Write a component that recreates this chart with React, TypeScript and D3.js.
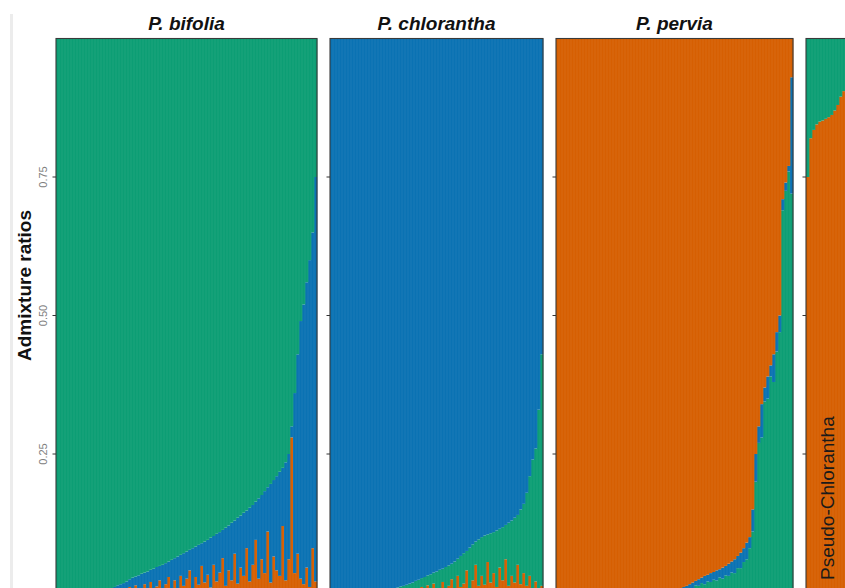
import React from "react";
import * as d3 from "d3";

// ---------- data ----------
const panelTitles = ["P. bifolia", "P. chlorantha", "P. pervia", ""];
const sideLabel = "Pseudo-Chlorantha";
const yTicks = [0.25, 0.5, 0.75];
const yTitle = "Admixture ratios";

// P. bifolia: total non-green share per individual, and its orange part
const bifoliaNonGreen = [
  0, 0, 0, 0, 0, 0, 0.001, 0, 0.001, 0.002,
  0.001, 0.002, 0.002, 0.003, 0.003, 0.004, 0.005, 0.006, 0.008, 0.01,
  0.013, 0.015, 0.017, 0.02, 0.024, 0.027, 0.029, 0.031, 0.034, 0.036,
  0.038, 0.041, 0.043, 0.046, 0.048, 0.05, 0.053, 0.056, 0.059, 0.062,
  0.065, 0.068, 0.071, 0.074, 0.077, 0.08, 0.083, 0.086, 0.089, 0.092,
  0.095, 0.099, 0.102, 0.106, 0.109, 0.113, 0.117, 0.121, 0.126, 0.13,
  0.135, 0.139, 0.144, 0.148, 0.153, 0.158, 0.164, 0.17, 0.176, 0.183,
  0.19, 0.196, 0.203, 0.21, 0.218, 0.225, 0.235, 0.25, 0.3, 0.36,
  0.43, 0.49, 0.52, 0.56, 0.6, 0.65, 0.75,
];
const bifoliaOrange = [
  0, 0, 0, 0, 0, 0, 0, 0, 0, 0,
  0, 0, 0.001, 0.001, 0.001, 0.002, 0.001, 0.003, 0.004, 0.001,
  0.005, 0.002, 0.008, 0.003, 0.01, 0.002, 0.013, 0.005, 0.002, 0.015,
  0.006, 0.019, 0.004, 0.011, 0.022, 0.005, 0.015, 0.028, 0.007, 0.022,
  0.004, 0.03, 0.012, 0.025, 0.04, 0.008, 0.028, 0.014, 0.048, 0.018,
  0.032, 0.009, 0.05, 0.02, 0.036, 0.062, 0.012, 0.04, 0.022, 0.07,
  0.016, 0.045, 0.03, 0.08, 0.02, 0.05, 0.095, 0.025, 0.06, 0.035,
  0.11, 0.018, 0.065, 0.04, 0.03, 0.12, 0.022, 0.06, 0.28, 0.035,
  0.07, 0.025, 0.015, 0.045, 0.01, 0.08, 0.02,
];

// P. chlorantha: total non-blue share, and its orange part
const chloranthaNonBlue = [
  0, 0, 0, 0, 0, 0, 0, 0, 0, 0,
  0, 0.001, 0.001, 0.002, 0.002, 0.003, 0.003, 0.004, 0.005, 0.006,
  0.007, 0.008, 0.009, 0.011, 0.012, 0.014, 0.016, 0.018, 0.021, 0.023,
  0.026, 0.028, 0.031, 0.033, 0.036, 0.038, 0.041, 0.043, 0.046, 0.049,
  0.052, 0.056, 0.061, 0.066, 0.071, 0.075, 0.081, 0.087, 0.092, 0.096,
  0.1, 0.103, 0.105, 0.107, 0.109, 0.112, 0.115, 0.118, 0.122, 0.126,
  0.13, 0.135, 0.14, 0.15, 0.16, 0.18, 0.21, 0.24, 0.26, 0.33, 0.43,
];
const chloranthaOrange = [
  0, 0, 0, 0, 0, 0, 0, 0, 0, 0,
  0, 0, 0, 0, 0, 0, 0, 0, 0, 0,
  0, 0, 0, 0, 0, 0.002, 0.006, 0.001, 0.008, 0.003,
  0.01, 0.002, 0.013, 0.004, 0.016, 0.003, 0.008, 0.019, 0.005, 0.012,
  0.024, 0.006, 0.03, 0.01, 0.016, 0.04, 0.008, 0.022, 0.05, 0.012,
  0.03, 0.014, 0.055, 0.018, 0.035, 0.01, 0.045, 0.022, 0.06, 0.012,
  0.03, 0.018, 0.05, 0.015, 0.035, 0.012, 0.03, 0.008, 0.02, 0.006, 0.012,
];

// P. pervia: total non-orange share, and its blue part
const perviaNonOrange = [
  0, 0, 0, 0, 0, 0, 0, 0, 0, 0,
  0, 0, 0, 0, 0, 0, 0, 0, 0, 0,
  0, 0, 0, 0, 0, 0.001, 0, 0.001, 0.001, 0.001,
  0.001, 0.002, 0.002, 0.002, 0.003, 0.003, 0.004, 0.004, 0.005, 0.005,
  0.006, 0.008, 0.01, 0.012, 0.015, 0.018, 0.021, 0.024, 0.027, 0.03,
  0.032, 0.035, 0.037, 0.04, 0.042, 0.045, 0.048, 0.052, 0.056, 0.06,
  0.066, 0.072, 0.08, 0.09, 0.1, 0.15, 0.25, 0.3, 0.34, 0.37,
  0.39, 0.41, 0.43, 0.47, 0.5, 0.71, 0.74, 0.77, 0.93,
];
const perviaBlue = [
  0, 0, 0, 0, 0, 0, 0, 0, 0, 0,
  0, 0, 0, 0, 0, 0, 0, 0, 0, 0,
  0, 0, 0, 0, 0, 0.001, 0, 0.001, 0, 0.001,
  0.001, 0.001, 0.001, 0.001, 0.002, 0.001, 0.002, 0.002, 0.003, 0.002,
  0.003, 0.004, 0.006, 0.005, 0.008, 0.01, 0.008, 0.012, 0.01, 0.015,
  0.012, 0.016, 0.014, 0.018, 0.015, 0.02, 0.017, 0.022, 0.02, 0.025,
  0.022, 0.028, 0.025, 0.03, 0.02, 0.04, 0.05, 0.03, 0.06, 0.025,
  0.04, 0.02, 0.05, 0.035, 0.03, 0.02, 0.015, 0.01, 0.21,
];

// Pseudo-Chlorantha (partly visible): orange share per individual
const pseudoOrange = [
  0.75, 0.82, 0.835, 0.845, 0.85, 0.852, 0.855, 0.858, 0.862, 0.87,
  0.88, 0.895, 0.905, 0.915, 0.925, 0.935,
];

// ---------- styling ----------
const W = 845;
const H = 588;
const COLORS: Record<string, string> = {
  green: "#0c9e74",
  blue: "#0a72b3",
  orange: "#d65f02",
};
const FONT = "'Liberation Sans', Arial, Helvetica, sans-serif";

type Row = { green: number; blue: number; orange: number };

const bifoliaRows: Row[] = bifoliaNonGreen.map((t, i) => ({
  orange: bifoliaOrange[i],
  blue: t - bifoliaOrange[i],
  green: 1 - t,
}));
const chloranthaRows: Row[] = chloranthaNonBlue.map((t, i) => ({
  orange: chloranthaOrange[i],
  green: t - chloranthaOrange[i],
  blue: 1 - t,
}));
const perviaRows: Row[] = perviaNonOrange.map((t, i) => ({
  blue: perviaBlue[i],
  green: t - perviaBlue[i],
  orange: 1 - t,
}));
const pseudoRows: Row[] = pseudoOrange.map((o) => ({
  orange: o,
  blue: 0,
  green: 1 - o,
}));

const panels = [
  { title: panelTitles[0], rows: bifoliaRows, keys: ["orange", "blue", "green"] },
  { title: panelTitles[1], rows: chloranthaRows, keys: ["orange", "green", "blue"] },
  { title: panelTitles[2], rows: perviaRows, keys: ["green", "blue", "orange"] },
  { title: panelTitles[3], rows: pseudoRows, keys: ["orange", "green"] },
];

const X0 = 56;
const BAR_W = 3.0;
const GAP = 13;
const Y_TOP = 38.5;
const Y_BOTTOM = 592.5;

export default function App() {
  const y = d3.scaleLinear().domain([0, 1]).range([Y_BOTTOM, Y_TOP]);

  let cursor = X0;
  const layout = panels.map((p) => {
    const x0 = cursor;
    const x1 = x0 + p.rows.length * BAR_W;
    cursor = x1 + GAP;
    const xb = d3
      .scaleBand<number>()
      .domain(d3.range(p.rows.length))
      .range([x0, x1])
      .padding(0);
    const stacked = d3.stack<Row>().keys(p.keys as any)(p.rows);
    return { ...p, x0, x1, xb, stacked };
  });

  return (
    <svg
      width={W}
      height={H}
      viewBox={`0 0 ${W} ${H}`}
      style={{ position: "absolute", left: 0, top: 0, display: "block", background: "#fff" }}
    >
      <rect x={0} y={0} width={W} height={H} fill="#ffffff" />
      {/* faint left strip */}
      <rect x={10} y={14} width={3} height={H - 14} fill="#ececec" />

      {/* y-axis title */}
      <text
        transform={`translate(31,${(y(0.25) + y(0.75)) / 2 - 30}) rotate(-90)`}
        textAnchor="middle"
        fontFamily={FONT}
        fontWeight="bold"
        fontSize={19}
        fill="#111"
      >
        {yTitle}
      </text>

      {/* y tick labels on first panel */}
      {yTicks.map((t) => (
        <text
          key={`lab${t}`}
          transform={`translate(47,${y(t)}) rotate(-90)`}
          textAnchor="middle"
          fontFamily={FONT}
          fontSize={11}
          fill="#808080"
        >
          {d3.format(".2f")(t)}
        </text>
      ))}

      {layout.map((p, pi) => (
        <g key={pi}>
          {p.stacked.map((s) => (
            <g key={s.key} fill={COLORS[s.key]}>
              {s.map((d, i) => {
                const h = y(d[0]) - y(d[1]);
                if (h <= 0) return null;
                return (
                  <rect
                    key={i}
                    x={p.xb(i)!}
                    y={y(d[1])}
                    width={p.xb.bandwidth() + 0.35}
                    height={h}
                  />
                );
              })}
            </g>
          ))}
          {/* faint separators between individuals */}
          {p.rows.map((_, i) =>
            i === 0 ? null : (
              <line
                key={`sep${i}`}
                x1={p.xb(i)!}
                x2={p.xb(i)!}
                y1={Y_TOP}
                y2={H}
                stroke="#ffffff"
                strokeOpacity={0.1}
                strokeWidth={0.7}
              />
            )
          )}
          {/* panel border */}
          <rect
            x={p.x0}
            y={Y_TOP}
            width={p.x1 - p.x0}
            height={Y_BOTTOM - Y_TOP}
            fill="none"
            stroke="#3a3a3a"
            strokeWidth={1.1}
          />
          {/* y ticks */}
          {yTicks.map((t) => (
            <line
              key={`t${t}`}
              x1={p.x0 - 3.5}
              x2={p.x0}
              y1={y(t)}
              y2={y(t)}
              stroke="#333"
              strokeWidth={1}
            />
          ))}
          {/* strip title */}
          {p.title && (
            <text
              x={(p.x0 + p.x1) / 2}
              y={30}
              textAnchor="middle"
              fontFamily={FONT}
              fontWeight="bold"
              fontStyle="italic"
              fontSize={19}
              fill="#111"
            >
              {p.title}
            </text>
          )}
        </g>
      ))}

      {/* label inside the partly visible fourth panel */}
      <text
        transform={`translate(834,580) rotate(-90)`}
        textAnchor="start"
        fontFamily={FONT}
        fontSize={19}
        fill="#1a1a1a"
      >
        {sideLabel}
      </text>
    </svg>
  );
}
